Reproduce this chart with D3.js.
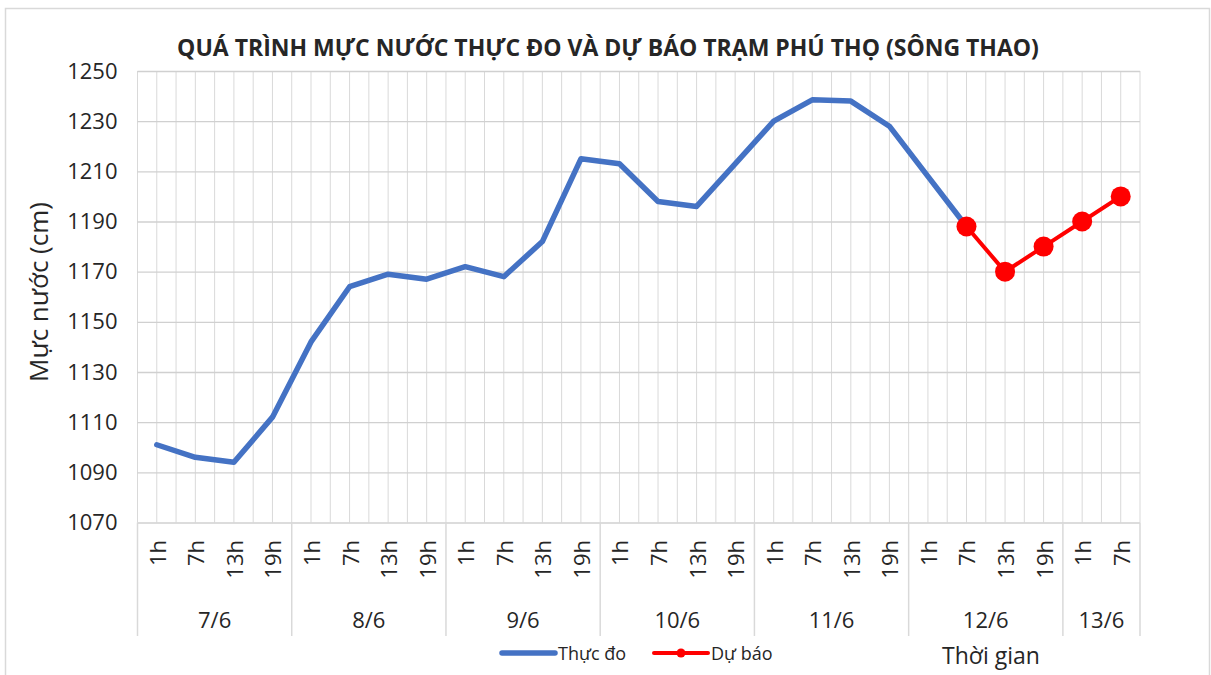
<!DOCTYPE html>
<html>
<head>
<meta charset="utf-8">
<script src="https://cdn.jsdelivr.net/npm/d3@7"></script>
<style>
  body { margin: 0; background: #fff; }
  svg text { font-family: "Open Sans", "Noto Sans", sans-serif; fill: #262626; }
</style>
</head>
<body>
<svg id="chart" width="1211" height="675"></svg>
<script>
// ngày và giờ trên trục hoành
var days = ["7/6", "8/6", "9/6", "10/6", "11/6", "12/6", "13/6"];
var hoursPerDay = [
    ["1h", "7h", "13h", "19h"],
    ["1h", "7h", "13h", "19h"],
    ["1h", "7h", "13h", "19h"],
    ["1h", "7h", "13h", "19h"],
    ["1h", "7h", "13h", "19h"],
    ["1h", "7h", "13h", "19h"],
    ["1h", "7h"]
];
// mực nước thực đo (cm), null = không có số liệu
var thucDo = [1101, 1096, 1094, 1112, 1142, 1164, 1169, 1167, 1172, 1168, 1182, 1215,
              1213, 1198, 1196, 1213, 1230, 1238.5, 1238, 1228, 1208, 1188,
              null, null, null, null];
// mực nước dự báo (cm)
var duBao = [null, null, null, null, null, null, null, null, null, null, null, null,
             null, null, null, null, null, null, null, null, null, 1188,
             1170, 1180, 1190, 1200];
var yTicks = [1070, 1090, 1110, 1130, 1150, 1170, 1190, 1210, 1230, 1250];

var categories = [];
days.forEach(function (d, di) {
    hoursPerDay[di].forEach(function (h) {
        categories.push({day: d, hour: h, idx: categories.length});
    });
});

var svg = d3.select("#chart");
var plot = {left: 137.5, right: 1140, top: 71, bottom: 522.5};

var x = d3.scaleBand()
    .domain(d3.range(categories.length))
    .range([plot.left, plot.right])
    .padding(0);
var bw = x.bandwidth();
var cx = function (i) { return x(i) + bw / 2; };

var y = d3.scaleLinear().domain([1070, 1250]).range([plot.bottom, plot.top]);

// khung ngoài
svg.append("rect")
    .attr("x", 5.5).attr("y", 8.5)
    .attr("width", 1204).attr("height", 680)
    .attr("fill", "none").attr("stroke", "#d9d9d9").attr("stroke-width", 1.5);

// lưới dọc: mỗi nửa ô
var vgrid = [];
categories.forEach(function (c, i) { vgrid.push(x(i)); vgrid.push(cx(i)); });
vgrid.push(plot.right);
svg.append("g").selectAll("line").data(vgrid).enter().append("line")
    .attr("x1", function (d) { return d; }).attr("x2", function (d) { return d; })
    .attr("y1", plot.top).attr("y2", plot.bottom)
    .attr("stroke", "#d9d9d9").attr("stroke-width", 1);

// lưới ngang + nhãn trục tung
var yAxis = d3.axisLeft(y).tickValues(yTicks).tickFormat(d3.format("d"))
    .tickSize(-(plot.right - plot.left)).tickPadding(20);
var gy = svg.append("g").attr("transform", "translate(" + plot.left + ",0)").call(yAxis);
gy.select(".domain").remove();
gy.selectAll(".tick line").attr("stroke", "#d0d0d0").attr("stroke-width", 1.3);
gy.selectAll(".tick text")
    .attr("font-size", 22).attr("fill", "#262626")
    .style("font-family", "'Open Sans', sans-serif");

// trục hoành: nhãn giờ xoay
var gx = svg.append("g");
gx.selectAll("text.hour").data(categories).enter().append("text")
    .attr("class", "hour")
    .attr("transform", function (d, i) { return "translate(" + cx(i) + ",540) rotate(-90)"; })
    .attr("text-anchor", "end")
    .attr("dominant-baseline", "central")
    .attr("font-size", 22)
    .text(function (d) { return d.hour; });

// ranh giới ngày + nhãn ngày
var starts = [];
var acc = 0;
days.forEach(function (d, di) { starts.push(acc); acc += hoursPerDay[di].length; });
var bounds = starts.map(function (s) { return x(s); }).concat([plot.right]);
gx.selectAll("line.sep").data(bounds).enter().append("line")
    .attr("class", "sep")
    .attr("x1", function (d) { return d; }).attr("x2", function (d) { return d; })
    .attr("y1", plot.bottom).attr("y2", 636)
    .attr("stroke", "#d9d9d9").attr("stroke-width", 1.5);
gx.selectAll("text.day").data(days).enter().append("text")
    .attr("class", "day")
    .attr("x", function (d, di) { return (bounds[di] + bounds[di + 1]) / 2; })
    .attr("y", 628)
    .attr("text-anchor", "middle")
    .attr("font-size", 22)
    .text(function (d) { return d; });

// đường thực đo
var lineGen = d3.line()
    .defined(function (d) { return d != null; })
    .x(function (d, i) { return cx(i); })
    .y(function (d) { return y(d); });

svg.append("path").datum(thucDo)
    .attr("d", lineGen)
    .attr("fill", "none").attr("stroke", "#4472C4")
    .attr("stroke-width", 5.5).attr("stroke-linejoin", "round").attr("stroke-linecap", "round");

// đường dự báo
svg.append("path").datum(duBao)
    .attr("d", lineGen)
    .attr("fill", "none").attr("stroke", "#ff0000")
    .attr("stroke-width", 4).attr("stroke-linejoin", "round");
svg.append("g").selectAll("circle")
    .data(duBao.map(function (v, i) { return {v: v, i: i}; }).filter(function (d) { return d.v != null; }))
    .enter().append("circle")
    .attr("cx", function (d) { return cx(d.i); })
    .attr("cy", function (d) { return y(d.v); })
    .attr("r", 10)
    .attr("fill", "#ff0000");

// tiêu đề
svg.append("text")
    .attr("x", 608).attr("y", 56)
    .attr("text-anchor", "middle")
    .attr("font-size", 23).attr("font-weight", "bold").attr("fill", "#0d0d0d")
    .text("QUÁ TRÌNH MỰC NƯỚC THỰC ĐO VÀ DỰ BÁO TRẠM PHÚ THỌ (SÔNG THAO)");

// tên trục tung
svg.append("text")
    .attr("transform", "translate(48,292) rotate(-90)")
    .attr("text-anchor", "middle")
    .attr("font-size", 26).attr("fill", "#0d0d0d")
    .text("Mực nước (cm)");

// tên trục hoành
svg.append("text")
    .attr("x", 991).attr("y", 664)
    .attr("text-anchor", "middle")
    .attr("font-size", 23)
    .text("Thời gian");

// chú thích
var legend = svg.append("g").attr("transform", "translate(0,653)");
legend.append("line").attr("x1", 502).attr("x2", 555).attr("y1", 0).attr("y2", 0)
    .attr("stroke", "#4472C4").attr("stroke-width", 5.5).attr("stroke-linecap", "round");
legend.append("text").attr("x", 558).attr("y", 6.5).attr("font-size", 18).text("Thực đo");
legend.append("line").attr("x1", 654).attr("x2", 708).attr("y1", 0).attr("y2", 0)
    .attr("stroke", "#ff0000").attr("stroke-width", 4).attr("stroke-linecap", "round");
legend.append("circle").attr("cx", 681).attr("cy", 0).attr("r", 4.5).attr("fill", "#ff0000");
legend.append("text").attr("x", 711).attr("y", 6.5).attr("font-size", 18).text("Dự báo");
</script>
</body>
</html>
